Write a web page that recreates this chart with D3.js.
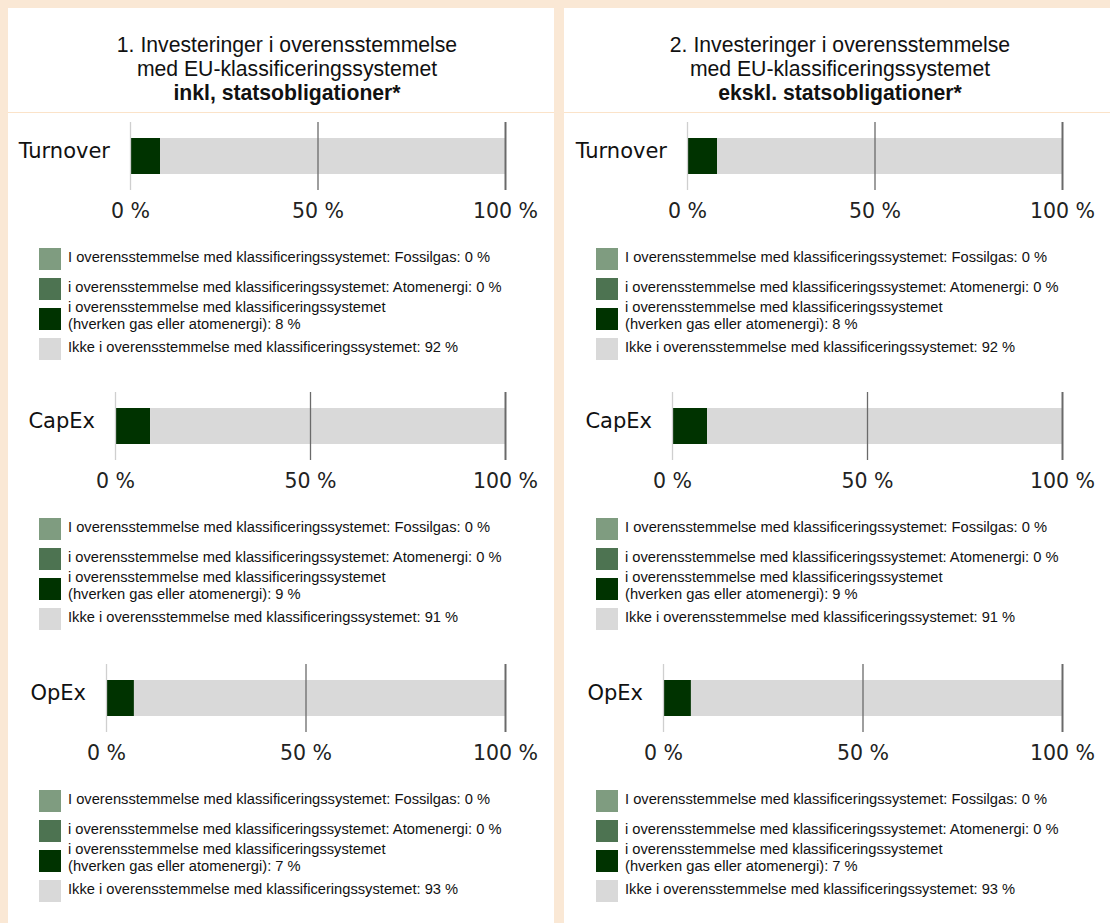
<!DOCTYPE html>
<html lang="da">
<head>
<meta charset="utf-8">
<style>
  body { margin: 0; background: #fae8d5; }
  svg { display: block; }
  .title { font-family: "Liberation Sans", Arial, sans-serif; font-size: 21.2px; fill: #111; }
  .cat { font-family: "DejaVu Sans", sans-serif; font-size: 21px; fill: #111; }
  .tick text { font-family: "DejaVu Sans", sans-serif; font-size: 20.5px; fill: #222; }
  .leg { font-family: "Liberation Sans", Arial, sans-serif; font-size: 14.7px; fill: #111; }
</style>
</head>
<body>
<div id="chart"></div>
<script src="https://cdn.jsdelivr.net/npm/d3@7"></script>
<script>
// ---- data ----
var panelTitles = [
  ["1. Investeringer i overensstemmelse", "med EU-klassificeringssystemet", "inkl, statsobligationer*"],
  ["2. Investeringer i overensstemmelse", "med EU-klassificeringssystemet", "ekskl. statsobligationer*"]
];
var categories = ["Turnover", "CapEx", "OpEx"];
var seriesKeys = ["fossil", "atom", "other", "not"];
var seriesLabels = [
  ["I overensstemmelse med klassificeringssystemet: Fossilgas: "],
  ["i overensstemmelse med klassificeringssystemet: Atomenergi: "],
  ["i overensstemmelse med klassificeringssystemet", "(hverken gas eller atomenergi): "],
  ["Ikke i overensstemmelse med klassificeringssystemet: "]
];
var seriesColors = ["#7f9c80", "#4d7351", "#003300", "#d9d9d9"];
// values per category: fossil, atom, other, not aligned
var valuesIncl = [[0, 0, 8, 92], [0, 0, 9, 91], [0, 0, 7, 93]];
var valuesExcl = [[0, 0, 8, 92], [0, 0, 9, 91], [0, 0, 7, 93]];
var tickValues = [0, 50, 100];

// ---- layout ----
var width = 1110, height = 923;
var panelX = [8, 564], panelW = 546;
var contentShift = [0, 557];
var titleCenter = [287, 283];
var blockTop = [122, 392, 664];      // top of gridlines per category
var plotLeft = [130, 115, 106];      // 0 % position per category
var plotRight = 505;

var svg = d3.select("#chart").append("svg")
  .attr("width", width).attr("height", height);

svg.append("rect").attr("width", width).attr("height", height).attr("fill", "#fae8d5");

[valuesIncl, valuesExcl].forEach(function(vals, p) {
  svg.append("rect").attr("x", panelX[p]).attr("y", 8)
    .attr("width", panelW).attr("height", height).attr("fill", "#fff");
  svg.append("line").attr("x1", panelX[p]).attr("x2", panelX[p] + panelW)
    .attr("y1", 112.5).attr("y2", 112.5)
    .attr("stroke", "#fbe3c9").attr("stroke-width", 1);

  var g = svg.append("g").attr("transform", "translate(" + contentShift[p] + ",0)");

  var t = g.append("text").attr("class", "title").attr("text-anchor", "middle");
  panelTitles[p].forEach(function(line, i) {
    t.append("tspan").attr("x", titleCenter[p]).attr("y", 52 + i * 24)
      .style("font-weight", i == 2 ? "bold" : null)
      .text(line);
  });

  var rows = vals.map(function(v, i) {
    var o = { cat: categories[i] };
    seriesKeys.forEach(function(k, j) { o[k] = v[j]; });
    return o;
  });
  var stacked = d3.stack().keys(seriesKeys)(rows);

  categories.forEach(function(cat, ci) {
    var top = blockTop[ci];
    var x = d3.scaleLinear().domain([0, 100]).range([plotLeft[ci], plotRight]);
    var b = g.append("g");

    // bars
    stacked.forEach(function(s, si) {
      var d = s[ci];
      b.append("rect")
        .attr("x", x(d[0])).attr("y", top + 16)
        .attr("width", Math.max(0, x(d[1]) - x(d[0]))).attr("height", 36)
        .attr("fill", seriesColors[si]);
    });

    // gridlines + tick labels
    var ax = b.append("g").attr("transform", "translate(0," + (top + 68) + ")")
      .call(d3.axisBottom(x).tickValues(tickValues).tickSize(68).tickPadding(0)
        .tickFormat(function(d) { return d + " %"; }));
    ax.select(".domain").remove();
    ax.selectAll(".tick line")
      .attr("y1", -68).attr("y2", 0)
      .attr("stroke", function(d) { return d == 0 ? "#cfcfcf" : "#6a6a6a"; })
      .attr("stroke-width", function(d) { return d == 100 ? 2 : 1.3; });
    ax.selectAll(".tick text").attr("y", 28).attr("dy", 0);

    b.append("text").attr("class", "cat")
      .attr("x", plotLeft[ci] - 20).attr("y", top + 29).attr("dy", "0.35em")
      .attr("text-anchor", "end").text(cat);

    // legend
    var ly = top + 126;
    seriesLabels.forEach(function(lab, si) {
      var y0 = ly + si * 30;
      b.append("rect").attr("x", 39).attr("y", y0).attr("width", 22).attr("height", 22)
        .attr("fill", seriesColors[si]);
      var txt = b.append("text").attr("class", "leg");
      if (lab.length == 1) {
        txt.append("tspan").attr("x", 68).attr("y", y0 + 14)
          .text(lab[0] + vals[ci][si] + " %");
      } else {
        txt.append("tspan").attr("x", 68).attr("y", y0 + 4).text(lab[0]);
        txt.append("tspan").attr("x", 68).attr("y", y0 + 21).text(lab[1] + vals[ci][si] + " %");
      }
    });
  });
});
</script>
</body>
</html>
